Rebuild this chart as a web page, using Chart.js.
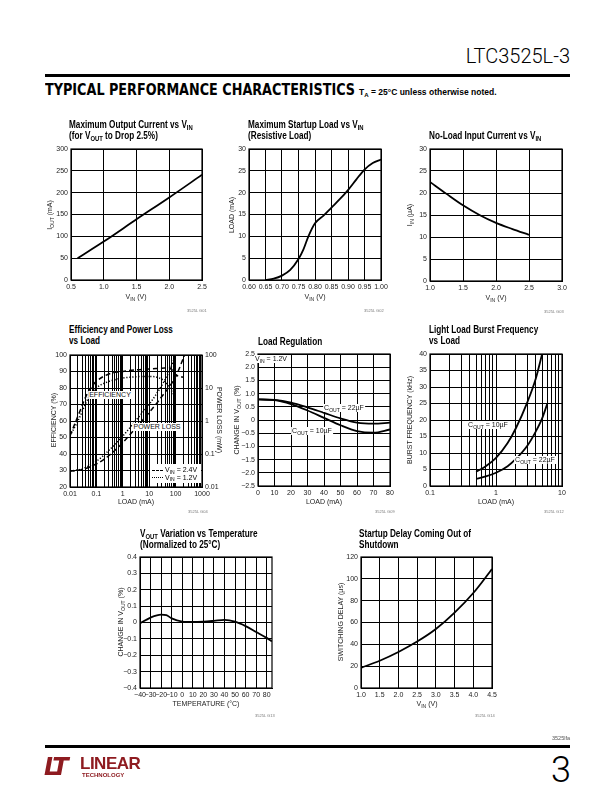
<!DOCTYPE html>
<html><head><meta charset="utf-8">
<script src="https://cdn.jsdelivr.net/npm/chart.js@4.4.1/dist/chart.umd.min.js"></script>
<style>
html,body{margin:0;padding:0;background:#fff}
body{position:relative;width:612px;height:792px;overflow:hidden;font-family:"Liberation Sans Narrow","Liberation Sans",Arial,sans-serif;color:#000}
.a{position:absolute;white-space:nowrap}
.ttl{font-weight:bold;font-size:10.5px;line-height:11px;transform:scaleX(0.78);transform-origin:left top}
.axt{font-size:7px;color:#222;transform:translate(-50%,-50%)}
.axr{font-size:7px;color:#222;transform:translate(-50%,-50%) rotate(-90deg)}
.axr2{font-size:7px;color:#222;transform:translate(-50%,-50%) rotate(90deg)}
.lbl{font-size:7px;color:#111;background:#fff;padding:0 1px;line-height:8px;transform:translate(-50%,-50%);z-index:5}
sub{font-size:72%;vertical-align:baseline;position:relative;top:0.35em;line-height:0}
.code{font-size:4px;color:#777}
canvas{position:absolute}
</style></head><body>
<div id="root"></div>
<script>
// ---------- DATA ----------
// 1. Maximum Output Current vs VIN
const maxIout_vin = [0.6, 1.0, 1.5, 2.0, 2.5];
const maxIout_mA  = [50, 88, 139, 189, 241];
const maxIout_xTicks = [0.5, 1.0, 1.5, 2.0, 2.5];
const maxIout_xLabels = ['0.5','1.0','1.5','2.0','2.5'];
const maxIout_yTicks = [0, 50, 100, 150, 200, 250, 300];
const maxIout_yLabels = ['0','50','100','150','200','250','300'];

// 2. Maximum Startup Load vs VIN
const startup_vin  = [0.65,0.675,0.70,0.725,0.75,0.765,0.78,0.80,0.825,0.85,0.875,0.90,0.925,0.95,0.975,1.00];
const startup_load = [0,0.3,1.0,2.3,4.8,7,10,13,14.7,16.6,18.5,20.6,23,25.3,26.8,27.6];
const startup_xTicks = [0.60,0.65,0.70,0.75,0.80,0.85,0.90,0.95,1.00];
const startup_xLabels = ['0.60','0.65','0.70','0.75','0.80','0.85','0.90','0.95','1.00'];
const startup_yTicks = [0,5,10,15,20,25,30];
const startup_yLabels = ['0','5','10','15','20','25','30'];

// 3. No-Load Input Current vs VIN
const noload_vin = [1.0,1.25,1.5,1.75,2.0,2.25,2.5];
const noload_iin = [22.5,19.8,17.2,15.0,13.2,11.8,10.5];
const noload_xTicks = [1.0,1.5,2.0,2.5,3.0];
const noload_xLabels = ['1.0','1.5','2.0','2.5','3.0'];
const noload_yTicks = [0,5,10,15,20,25,30];
const noload_yLabels = ['0','5','10','15','20','25','30'];

// 4. Efficiency and Power Loss vs Load
const eff24_load = [0.01,0.02,0.05,0.1,0.3,1,3,10,30,60,100,150,200];
const eff24_pct  = [51,63,78,84,88.5,90,91,91.5,92,92.3,88,87,86.5];
const eff12_load = [0.01,0.02,0.05,0.1,0.3,1,3,10,25,50,85];
const eff12_pct  = [51,60,74,80,84,86,86.8,87,86,82,76];
const loss24_load = [0.01,0.03,0.1,0.3,1,3,10,30,100,220];
const loss24_mW   = [0.03,0.034,0.05,0.09,0.22,0.6,1.8,5.5,22,100];
const loss12_load = [0.01,0.03,0.1,0.3,1,3,10,30,60,100];
const loss12_mW   = [0.03,0.036,0.06,0.13,0.35,1,3.2,12,35,100];
const eff_xDecades = [0.01,0.1,1,10,100,1000];
const eff_xLabels  = ['0.01','0.1','1','10','100','1000'];
const eff_yTicks = [20,30,40,50,60,70,80,90,100];
const eff_yLabels = ['20','30','40','50','60','70','80','90','100'];
const loss_yTicks = [0.01,0.1,1,10,100];
const loss_yLabels = ['0.01','0.1','1','10','100'];

// 5. Load Regulation
const loadreg_load = [0,10,20,30,40,50,60,70,80];
const loadreg_22uF = [0.78,0.76,0.66,0.48,0.27,0.06,-0.1,-0.14,-0.1];
const loadreg_10uF = [0.78,0.75,0.6,0.36,0.08,-0.2,-0.42,-0.48,-0.36];
const loadreg_xTicks = [0,10,20,30,40,50,60,70,80];
const loadreg_xLabels = ['0','10','20','30','40','50','60','70','80'];
const loadreg_yTicks = [-2.5,-2,-1.5,-1,-0.5,0,0.5,1,1.5,2,2.5];
const loadreg_yLabels = ['\u22122.5','\u22122.0','\u22121.5','\u22121.0','\u22120.5','0','0.5','1.0','1.5','2.0','2.5'];

// 6. Light Load Burst Frequency vs Load
const burst10_load = [0.5,0.7,1,1.5,2,3,4,5];
const burst10_kHz  = [4.3,6,8.5,13,17.5,25.5,32.5,40];
const burst22_load = [0.5,0.7,1,1.5,2,3,4,5,6];
const burst22_kHz  = [2.2,2.9,4,6,8.2,12.3,16.5,20.5,25];
const burst_xDecades = [0.1,1,10];
const burst_xLabels = ['0.1','1','10'];
const burst_yTicks = [0,5,10,15,20,25,30,35,40];
const burst_yLabels = ['0','5','10','15','20','25','30','35','40'];

// 7. VOUT Variation vs Temperature
const vtemp_C   = [-40,-30,-20,-15,-10,0,10,20,30,40,50,60,70,80,85];
const vtemp_pct = [-0.005,0.03,0.048,0.045,0.025,0.006,0.003,0.005,0.01,0.016,0.005,-0.022,-0.058,-0.094,-0.115];
const vtemp_xTicks = [-40,-30,-20,-10,0,10,20,30,40,50,60,70,80];
const vtemp_xLabels = ['\u221240','\u221230','\u221220','\u221210','0','10','20','30','40','50','60','70','80'];
const vtemp_yTicks = [-0.4,-0.3,-0.2,-0.1,0,0.1,0.2,0.3,0.4];
const vtemp_yLabels = ['\u22120.4','\u22120.3','\u22120.2','\u22120.1','0','0.1','0.2','0.3','0.4'];

// 8. Startup Delay Coming Out of Shutdown
const sdelay_vin = [1.0,1.5,2.0,2.5,3.0,3.5,4.0,4.5];
const sdelay_us  = [18.5,25,33,42.5,54,69,87,109];
const sdelay_xTicks = [1.0,1.5,2.0,2.5,3.0,3.5,4.0,4.5];
const sdelay_xLabels = ['1.0','1.5','2.0','2.5','3.0','3.5','4.0','4.5'];
const sdelay_yTicks = [0,20,40,60,80,100,120];
const sdelay_yLabels = ['0','20','40','60','80','100','120'];

// ---------- HELPERS ----------
const FONT = '"Liberation Sans Narrow","Liberation Sans",Arial,sans-serif';
Chart.defaults.font.family = FONT;
Chart.defaults.font.size = 7;
Chart.defaults.color = '#222';

function pts(xs, ys){ return xs.map((x,i)=>({x, y: ys[i]})); }
function logGrid(decades){
  const out = [];
  for (let d = 0; d < decades.length - 1; d++)
    for (let m = 1; m <= 9; m++) out.push(+(decades[d]*m).toPrecision(6));
  out.push(decades[decades.length-1]);
  return out;
}
function scale(o){
  const gridVals = o.grid || o.ticks;
  const s = {
    type: o.type || 'linear', position: o.pos, min: o.min, max: o.max,
    afterBuildTicks: sc => { sc.ticks = gridVals.map(v => ({value: v})); },
    ticks: {autoSkip:false, maxRotation:0, minRotation:0, padding:3, color:'#222', font:{size:7},
      callback: (v, i, arr) => {
        const val = arr[i].value;
        const k = o.ticks.findIndex(t => Math.abs(t - val) <= 1e-9 * Math.max(1, Math.abs(t)));
        return k >= 0 ? o.labels[k] : '';
      }},
    grid: {display: o.showGrid !== false, color:'#000', lineWidth:1, drawTicks:false},
    border: {display:true, color:'#000', width:1}
  };
  if (o.fitW != null) s.afterFit = sc => { sc.width = o.fitW; };
  if (o.fitH != null) s.afterFit = sc => { sc.height = o.fitH; };
  return s;
}
const frame = { id:'frame', afterDatasetsDraw(ch){ const a = ch.chartArea, c = ch.ctx;
  c.save(); c.strokeStyle = '#000'; c.lineWidth = 1.2; c.strokeRect(a.left, a.top, a.right - a.left, a.bottom - a.top); c.restore(); } };

function line(data, extra){
  return Object.assign({data, borderColor:'#000', borderWidth:1.8, pointRadius:0, fill:false,
    tension:0.4, cubicInterpolationMode:'monotone'}, extra || {});
}
function makeChart(plot, scales, datasets, rW){
  const yW = 30, padT = 8, xH = 14, padR = rW ? 0 : 12;
  const W = yW + plot.w + padR + (rW || 0), H = padT + plot.h + xH;
  const c = document.createElement('canvas');
  c.width = W; c.height = H;
  c.style.left = (plot.l - yW) + 'px'; c.style.top = (plot.t - padT) + 'px';
  c.style.width = W + 'px'; c.style.height = H + 'px';
  document.getElementById('root').appendChild(c);
  new Chart(c, { type:'line', data:{datasets},
    options:{ responsive:false, animation:false, events:[], devicePixelRatio:1,
      layout:{padding:{top:padT, right:padR, left:0, bottom:0}},
      plugins:{legend:{display:false}, tooltip:{enabled:false}},
      scales }, plugins:[frame] });
}

// ---------- CHARTS ----------
makeChart({l:71,t:149,w:131,h:131}, {
  x: scale({pos:'bottom', min:0.5, max:2.5, ticks:maxIout_xTicks, labels:maxIout_xLabels, fitH:14}),
  y: scale({pos:'left', min:0, max:300, ticks:maxIout_yTicks, labels:maxIout_yLabels, fitW:30})
}, [line(pts(maxIout_vin, maxIout_mA), {tension:0})]);

makeChart({l:249,t:149,w:132,h:131}, {
  x: scale({pos:'bottom', min:0.6, max:1.0, ticks:startup_xTicks, labels:startup_xLabels, fitH:14}),
  y: scale({pos:'left', min:0, max:30, ticks:startup_yTicks, labels:startup_yLabels, fitW:30})
}, [line(pts(startup_vin, startup_load))]);

makeChart({l:430,t:149,w:132,h:132}, {
  x: scale({pos:'bottom', min:1, max:3, ticks:noload_xTicks, labels:noload_xLabels, fitH:14}),
  y: scale({pos:'left', min:0, max:30, ticks:noload_yTicks, labels:noload_yLabels, fitW:30})
}, [line(pts(noload_vin, noload_iin))]);

makeChart({l:70,t:355,w:132,h:132}, {
  x: scale({type:'logarithmic', pos:'bottom', min:0.01, max:1000, ticks:eff_xDecades, grid:logGrid(eff_xDecades), labels:eff_xLabels, fitH:14}),
  y: scale({pos:'left', min:20, max:100, ticks:eff_yTicks, labels:eff_yLabels, fitW:30}),
  y2: scale({type:'logarithmic', pos:'right', min:0.01, max:100, ticks:loss_yTicks, labels:loss_yLabels, fitW:30, showGrid:false})
}, [
  line(pts(eff24_load, eff24_pct), {yAxisID:'y', borderWidth:1.5, borderDash:[5,3]}),
  line(pts(eff12_load, eff12_pct), {yAxisID:'y', borderWidth:1.5, borderDash:[1.2,1.8]}),
  line(pts(loss24_load, loss24_mW), {yAxisID:'y2', borderWidth:1.5, borderDash:[5,3]}),
  line(pts(loss12_load, loss12_mW), {yAxisID:'y2', borderWidth:1.5, borderDash:[1.2,1.8]})
], 30);

makeChart({l:258,t:354,w:132,h:132}, {
  x: scale({pos:'bottom', min:0, max:80, ticks:loadreg_xTicks, labels:loadreg_xLabels, fitH:14}),
  y: scale({pos:'left', min:-2.5, max:2.5, ticks:loadreg_yTicks, labels:loadreg_yLabels, fitW:30})
}, [line(pts(loadreg_load, loadreg_22uF)), line(pts(loadreg_load, loadreg_10uF))]);

makeChart({l:430,t:354,w:132,h:132}, {
  x: scale({type:'logarithmic', pos:'bottom', min:0.1, max:10, ticks:burst_xDecades, grid:logGrid(burst_xDecades), labels:burst_xLabels, fitH:14}),
  y: scale({pos:'left', min:0, max:40, ticks:burst_yTicks, labels:burst_yLabels, fitW:30})
}, [line(pts(burst10_load, burst10_kHz)), line(pts(burst22_load, burst22_kHz))]);

makeChart({l:140,t:557,w:132,h:131}, {
  x: scale({pos:'bottom', min:-40, max:85, ticks:vtemp_xTicks, labels:vtemp_xLabels, fitH:14}),
  y: scale({pos:'left', min:-0.4, max:0.4, ticks:vtemp_yTicks, labels:vtemp_yLabels, fitW:30})
}, [line(pts(vtemp_C, vtemp_pct))]);

makeChart({l:361,t:557,w:131,h:131}, {
  x: scale({pos:'bottom', min:1, max:4.5, ticks:sdelay_xTicks, labels:sdelay_xLabels, fitH:14}),
  y: scale({pos:'left', min:0, max:120, ticks:sdelay_yTicks, labels:sdelay_yLabels, fitW:30})
}, [line(pts(sdelay_vin, sdelay_us))]);
</script>

<!-- header -->
<div class="a" style="right:42px;top:44px;font-family:Roboto,'Liberation Sans',sans-serif;font-weight:300;font-size:20px;line-height:24px">LTC3525L-3</div>
<div class="a" style="left:45px;top:73.5px;width:525px;height:3px;background:#000"></div>
<div class="a" id="tpc" style="left:45px;top:82px;font-family:'DejaVu Sans','Liberation Sans',sans-serif;font-weight:900;font-size:15px;line-height:17px;transform-origin:left center">TYPICAL PERFORMANCE CHARACTERISTICS</div>
<div class="a" style="left:359px;top:87px;font-weight:bold;font-size:8.5px;line-height:10px">T<sub>A</sub> = 25°C unless otherwise noted.</div>

<!-- chart titles -->
<div class="a ttl" style="left:69px;top:118.5px">Maximum Output Current vs V<sub>IN</sub><br>(for V<sub>OUT</sub> to Drop 2.5%)</div>
<div class="a ttl" style="left:248px;top:118.5px">Maximum Startup Load vs V<sub>IN</sub><br>(Resistive Load)</div>
<div class="a ttl" style="left:429px;top:129.5px">No-Load Input Current vs V<sub>IN</sub></div>
<div class="a ttl" style="left:69px;top:324px">Efficiency and Power Loss<br>vs Load</div>
<div class="a ttl" style="left:258px;top:335.5px">Load Regulation</div>
<div class="a ttl" style="left:429px;top:324px">Light Load Burst Frequency<br>vs Load</div>
<div class="a ttl" style="left:140px;top:527.5px">V<sub>OUT</sub> Variation vs Temperature<br>(Normalized to 25°C)</div>
<div class="a ttl" style="left:359px;top:527.5px">Startup Delay Coming Out of<br>Shutdown</div>

<!-- axis titles -->
<div class="a axt" style="left:136px;top:296px">V<sub>IN</sub> (V)</div>
<div class="a axr" style="left:49px;top:215px">I<sub>OUT</sub> (mA)</div>
<div class="a axt" style="left:315px;top:296px">V<sub>IN</sub> (V)</div>
<div class="a axr" style="left:231px;top:215px">LOAD (mA)</div>
<div class="a axt" style="left:496px;top:297px">V<sub>IN</sub> (V)</div>
<div class="a axr" style="left:409px;top:215px">I<sub>IN</sub> (µA)</div>
<div class="a axt" style="left:136px;top:501px">LOAD (mA)</div>
<div class="a axr" style="left:53px;top:420px">EFFICIENCY (%)</div>
<div class="a axr2" style="left:219px;top:420px">POWER LOSS (mW)</div>
<div class="a axt" style="left:324px;top:501px">LOAD (mA)</div>
<div class="a axr" style="left:236px;top:420px">CHANGE IN V<sub>OUT</sub> (%)</div>
<div class="a axt" style="left:496px;top:501px">LOAD (mA)</div>
<div class="a axr" style="left:409px;top:420px">BURST FREQUENCY (kHz)</div>
<div class="a axt" style="left:206px;top:703px">TEMPERATURE (°C)</div>
<div class="a axr" style="left:120px;top:622px">CHANGE IN V<sub>OUT</sub> (%)</div>
<div class="a axt" style="left:427px;top:703px">V<sub>IN</sub> (V)</div>
<div class="a axr" style="left:340px;top:622px">SWITCHING DELAY (µs)</div>

<!-- in-plot labels -->
<div class="a lbl" style="left:110px;top:395px">EFFICIENCY</div>
<div class="a lbl" style="left:157px;top:427px">POWER LOSS</div>
<div class="a" style="left:150px;top:464px;width:51px;height:19px;background:#fff;z-index:4"></div>
<div class="a" style="left:152px;top:469.5px;width:11px;border-top:1.4px dashed #000;z-index:5"></div>
<div class="a" style="left:165px;top:466px;font-size:7px;line-height:8px;z-index:5">V<sub>IN</sub> = 2.4V</div>
<div class="a" style="left:152px;top:477px;width:11px;border-top:1.4px dotted #000;z-index:5"></div>
<div class="a" style="left:165px;top:473.5px;font-size:7px;line-height:8px;z-index:5">V<sub>IN</sub> = 1.2V</div>

<div class="a lbl" style="left:271px;top:359px">V<sub>IN</sub> = 1.2V</div>
<div class="a lbl" style="left:344px;top:408px">C<sub>OUT</sub> = 22µF</div>
<div class="a lbl" style="left:312px;top:431px">C<sub>OUT</sub> = 10µF</div>
<div class="a lbl" style="left:488px;top:425px">C<sub>OUT</sub> = 10µF</div>
<div class="a lbl" style="left:535px;top:460px">C<sub>OUT</sub> = 22µF</div>

<!-- figure codes -->
<div class="a code" style="left:187px;top:308px">3525L G01</div>
<div class="a code" style="left:364px;top:308px">3525L G02</div>
<div class="a code" style="left:544px;top:309px">3525L G03</div>
<div class="a code" style="left:188px;top:509px">3525L G04</div>
<div class="a code" style="left:375px;top:509px">3525L G09</div>
<div class="a code" style="left:544px;top:509px">3525L G12</div>
<div class="a code" style="left:255px;top:713px">3525L G13</div>
<div class="a code" style="left:475px;top:713px">3525L G14</div>

<!-- footer -->
<div class="a" style="right:42px;top:735px;font-size:5.5px;color:#555">3525lfa</div>
<div class="a" style="left:45px;top:745px;width:525px;height:3px;background:#000"></div>
<div class="a" style="right:41px;top:751px;font-family:Roboto,'Liberation Sans',sans-serif;font-weight:300;font-size:36px;line-height:38px">3</div>
<div class="a" style="left:44px;top:753px;color:#8e1b20;font-family:'DejaVu Sans',sans-serif;font-weight:900;font-style:italic;font-size:24px;line-height:28px;letter-spacing:-3px">LT</div>
<div class="a" style="left:80px;top:755px;color:#8e1b20;font-weight:bold;font-size:17px;line-height:18px;letter-spacing:-0.5px">LINEAR</div>
<div class="a" style="left:82px;top:772px;color:#8e1b20;font-weight:bold;font-size:6px;line-height:7px">TECHNOLOGY</div>

<script>
(function(){
  const el = document.getElementById('tpc');
  const w = el.getBoundingClientRect().width;
  if (w > 0) el.style.transform = 'scaleX(' + (310 / w) + ')';
})();
</script>
</body></html>
